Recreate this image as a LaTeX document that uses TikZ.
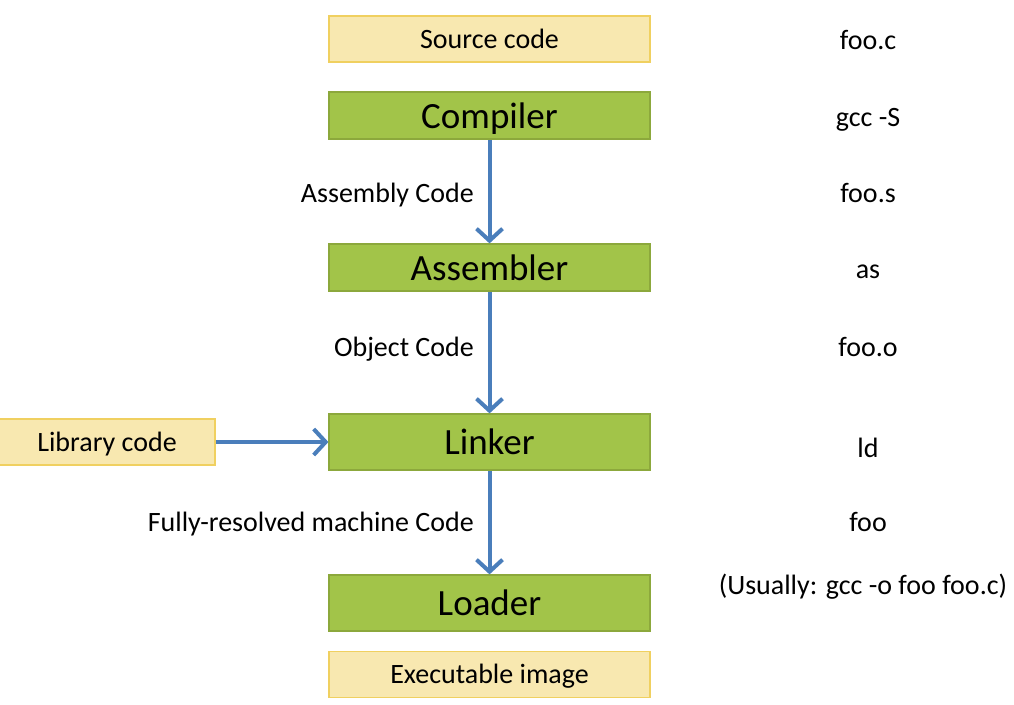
\documentclass[tikz,border=0pt]{standalone}
\usepackage{fontspec}
\setmainfont{Carlito}
\usetikzlibrary{arrows.meta}
\definecolor{ylwfill}{HTML}{F8E8B0}
\definecolor{ylwdraw}{HTML}{F0D060}
\definecolor{grnfill}{HTML}{A2C449}
\definecolor{grndraw}{HTML}{8CA83C}
\definecolor{arrblue}{HTML}{4A7EBB}
\tikzset{
  ybox/.style={draw=ylwdraw, fill=ylwfill, line width=1.2pt, minimum height=46pt, inner sep=0pt, text height=24pt, text depth=6pt, font=\fontsize{28}{32}\selectfont},
  gbox/.style={draw=grndraw, fill=grnfill, line width=1.2pt, minimum width=321pt, inner sep=0pt, text height=32pt, text depth=7pt, font=\fontsize{37}{42}\selectfont},
  lbl/.style={font=\fontsize{28}{32}\selectfont, inner sep=0pt, text height=23pt, text depth=5pt},
  flow/.style={draw=arrblue, line width=4pt, -{Straight Barb[length=12pt, width=26pt, line width=4pt]}},
}
\begin{document}
\begin{tikzpicture}[x=1pt, y=-1pt]
\useasboundingbox (0,0) rectangle (1014,704);
\node[ybox, minimum width=321pt] (src) at (489.5,39) {Source code};
\node[gbox, minimum height=47pt] (comp) at (489.5,115.5) {Compiler};
\node[gbox, minimum height=47pt] (asm) at (489.5,267.5) {Assembler};
\node[gbox, minimum height=56pt] (link) at (489.5,442) {Linker};
\node[gbox, minimum height=56pt] (load) at (489.5,603) {Loader};
\node[ybox, minimum width=321pt] (exe) at (489.5,674.5) {Executable image};
\node[ybox, minimum width=216pt] (lib) at (107,442) {Library code};

\draw[flow] (comp.south) -- (asm.north);
\draw[flow] (asm.south) -- (link.north);
\draw[flow] (link.south) -- (load.north);
\draw[flow] (lib.east) -- (link.west);

\node[lbl, anchor=east] (l1) at (474,193) {Assembly Code};
\node[lbl, anchor=east] (l2) at (474,347) {Object Code};
\node[lbl, anchor=east] (l3) at (474,522) {Fully-resolved machine Code};

\node[lbl] (r1) at (868,40) {foo.c};
\node[lbl] (r2) at (868,117) {gcc -S};
\node[lbl] (r3) at (868,193) {foo.s};
\node[lbl] (r4) at (868,269) {as};
\node[lbl] (r5) at (868,347) {foo.o};
\node[lbl] (r6) at (868,448) {ld};
\node[lbl] (r7) at (868,522) {foo};
\node[lbl] (r8) at (863,585) {(Usually: gcc -o foo foo.c)};
\end{tikzpicture}
\end{document}
